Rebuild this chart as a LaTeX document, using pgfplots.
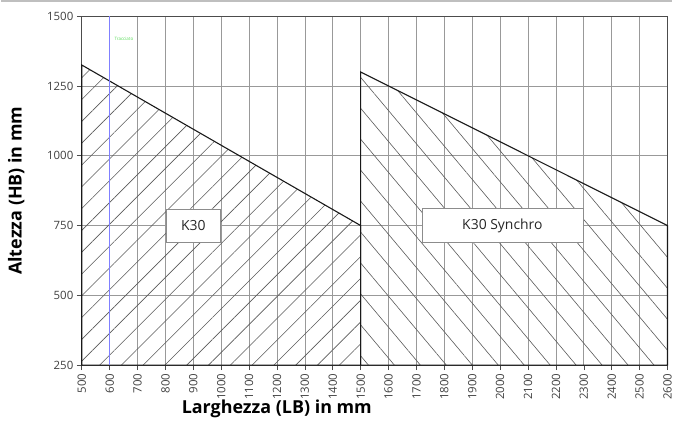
\documentclass[border=0pt]{standalone}
\usepackage{pgfplots}
\pgfplotsset{compat=1.18}
\usepackage{fontspec}
\setmainfont{Open Sans}
\usetikzlibrary{patterns.meta}
\definecolor{markgreen}{RGB}{90,220,90}

\begin{document}
\begin{tikzpicture}
\begin{axis}[
    scale only axis,
    width=589pt, height=351pt,
    xmin=500, xmax=2600, ymin=250, ymax=1500,
    xtick={500,600,...,2600},
    ytick={250,500,...,1500},
    xtick pos=bottom, ytick pos=left,
    /pgf/number format/assume math mode=true,
    /pgf/number format/1000 sep={},
    tick label style={font=\fontsize{11.5}{13}\selectfont, text=black!75},
    xticklabel style={rotate=90, anchor=east},
    tick align=outside,
    major tick length=5pt,
    tick style={black!70, line width=0.6pt},
    grid=major,
    grid style={black!40, line width=0.7pt},
    axis line style={black!70, line width=0.8pt},
    xlabel={\textbf{Larghezza (LB) in mm}},
    ylabel={\textbf{Altezza (HB) in mm}},
    label style={font=\fontsize{18}{20}\selectfont},
    xlabel style={at={(axis description cs:0.333,-0.125)}, anchor=center},
    ylabel style={at={(axis description cs:-0.112,0.5)}, anchor=center},
    clip=false,
]
% K30
\addplot[draw=black!90, line width=1.1pt,
    pattern={Lines[angle=45, distance=15.5pt, line width=0.6pt]},
    pattern color=black!65]
    coordinates {(500,250) (500,1325) (1500,750) (1500,250)} -- cycle;
% K30 Synchro
\addplot[draw=black!90, line width=1.1pt,
    pattern={Lines[angle=-50, distance=20pt, line width=0.6pt]},
    pattern color=black!65]
    coordinates {(1500,250) (1500,1300) (2600,750) (2600,250)} -- cycle;
% marker line at x = 600
\addplot[color=blue!50, line width=1.4pt, mark=none]
    coordinates {(600,250) (600,1500)};
\node[text=markgreen, font=\fontsize{4.5}{5}\selectfont, anchor=west] at (axis cs:605,1418) {Tracciato};

\node[draw=black!45, fill=white, minimum width=55pt, minimum height=33pt,
      font=\fontsize{14}{16}\selectfont, text=black!85] at (axis cs:900,750) {K30};
\node[draw=black!45, fill=white, minimum width=162pt, minimum height=34pt,
      font=\fontsize{14}{16}\selectfont, text=black!85] at (axis cs:2008,750) {K30 Synchro};

% top rule
\draw[black!25, line width=2.5pt]
    (axis description cs:-0.1375,1.0427) -- (axis description cs:1.0085,1.0427);
\end{axis}
\end{tikzpicture}
\end{document}
